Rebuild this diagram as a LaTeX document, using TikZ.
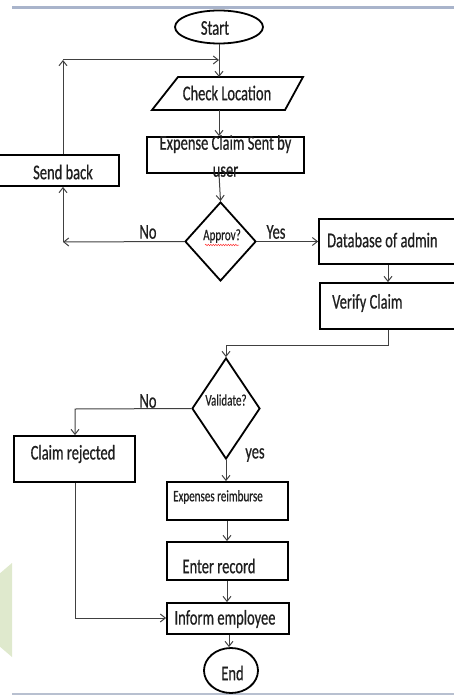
\documentclass[tikz,border=0pt]{standalone}
\usepackage{fontspec}
\newfontfamily\cf[FakeStretch=0.69,FakeBold=0.6]{Carlito}
\usetikzlibrary{arrows.meta,shapes.geometric,decorations.pathmorphing}
\definecolor{pale}{HTML}{DFE9CD}
\definecolor{topbar}{HTML}{A9B4CB}
\definecolor{botbar}{HTML}{B8C0D0}
\begin{document}
\begin{tikzpicture}[x=1pt,y=-1pt,
  box/.style={draw=black, line width=1.8pt, rectangle, inner sep=0pt},
  term/.style={draw=black, line width=1.8pt, ellipse, inner sep=0pt},
  dec/.style={draw=black, line width=1.8pt, diamond, inner sep=0pt},
  txt/.style={font=\fontsize{21}{27}\selectfont\cf, text=black!88, inner sep=0pt, align=center},
  small/.style={font=\fontsize{16}{18}\selectfont\cf, text=black!88, inner sep=0pt},
  arr/.style={draw=black!75, line width=1pt, -{Straight Barb[length=5pt,width=8pt]}},
  ln/.style={draw=black!75, line width=1pt}]
\useasboundingbox (0,0) rectangle (454,695);
\clip (0,0) rectangle (454,695);
% page decorations
\draw[topbar, line width=3pt] (12,8) -- (460,8);
\draw[botbar, line width=1.5pt] (12,694) -- (460,694);
\fill[pale] (12,563) -- (-2,575) -- (-2,645) -- (12,657) -- cycle;

% shapes
\node[term, minimum width=88pt, minimum height=33pt] (start) at (219,27) {};
\node[txt] (startt) at (215,28) {Start};

\draw[line width=1.8pt] (152,110) -- (178,77) -- (303,77) -- (285,110) -- cycle;
\coordinate (chktop) at (219,77);
\coordinate (chkbot) at (219,110);
\node[txt] (chk) at (227,93) {Check Location};

\node[box, minimum width=157pt, minimum height=36pt] (exp) at (225.5,155) {};
\node[txt] (expt) at (225.5,156) {Expense Claim Sent by\\user};

\node[dec, minimum width=71pt, minimum height=79pt] (app) at (220.5,241.5) {};
\node[small] (appt) at (222,236) {Approv?};
\draw[red!80, line width=0.5pt, decorate, decoration={snake, amplitude=0.7pt, segment length=2.5pt}] (205,245) -- (239,245);

\node[box, minimum width=130pt, minimum height=31pt] (send) at (54,170.5) {};
\node[txt] (sendt) at (63,172) {Send back};

\node[box, minimum width=150pt, minimum height=45pt] (db) at (394,241.5) {};
\node[txt, anchor=west] (dbt) at (327,240) {Database of admin};

\node[box, minimum width=150pt, minimum height=46pt] (ver) at (395,306) {};
\node[txt, anchor=west] (vert) at (332,303) {Verify Claim};

\node[dec, minimum width=68pt, minimum height=101pt] (val) at (226,408.5) {};
\node[small] (valt) at (226,400) {Validate?};

\node[box, minimum width=121pt, minimum height=46pt] (rej) at (74.5,459) {};
\node[txt] (rejt) at (73,454) {Claim rejected};

\node[box, minimum width=121pt, minimum height=38pt] (reim) at (227.5,501) {};
\node[small] (reimt) at (218,497) {Expenses reimburse};

\node[box, minimum width=121pt, minimum height=38pt] (ent) at (227.5,561) {};
\node[txt] (entt) at (219,566) {Enter record};

\node[box, minimum width=122pt, minimum height=31pt] (inf) at (228,618.5) {};
\node[txt] (inft) at (225,619) {Inform employee};

\node[term, minimum width=54pt, minimum height=45pt] (endn) at (231,670.5) {};
\node[txt] (endt) at (232.5,673) {End};

% labels
\node[txt] (no1) at (148,232) {No};
\node[txt] (yes1) at (276,232) {Yes};
\node[txt] (no2) at (148,401) {No};
\node[txt] (yes2) at (255,455) {yes};

% connectors
\coordinate (nob) at (63,242);
\coordinate (topc) at (63,60);
\coordinate (join) at (219,60);
\draw[arr] (start.south) -- (chktop);
\draw[arr] (chkbot) -- (exp.north -| chkbot);
\draw[arr] (exp.south -| chkbot) -- (app.north);
\draw[arr] (app.west) -- (nob);
\draw[arr] (nob) -- (send.south -| nob);
\draw[arr] (send.north -| nob) -- (topc);
\draw[arr] (topc) -- (join);
\draw[arr] (app.east) -- (db.west |- app.east);
\coordinate (dbx) at (388,264);
\draw[arr] (db.south -| dbx) -- (ver.north -| dbx);
\coordinate (bend) at (388,345);
\draw[arr] (ver.south -| dbx) -- (bend) -- (bend -| val.north) -- (val.north);
\coordinate (rejx) at (75,409);
\draw[arr] (val.west) -- (rejx) -- (rej.north -| rejx);
\draw[arr] (val.south) -- (reim.north -| val.south);
\coordinate (colx) at (227,560);
\draw[arr] (reim.south -| colx) -- (ent.north -| colx);
\draw[arr] (ent.south -| colx) -- (inf.north -| colx);
\coordinate (rejb) at (75,618);
\draw[arr] (rej.south -| rejb) -- (rejb) -- (inf.west |- rejb);
\coordinate (infx) at (229,640);
\draw[arr] (inf.south -| infx) -- (endn.north -| infx);
\end{tikzpicture}
\end{document}
